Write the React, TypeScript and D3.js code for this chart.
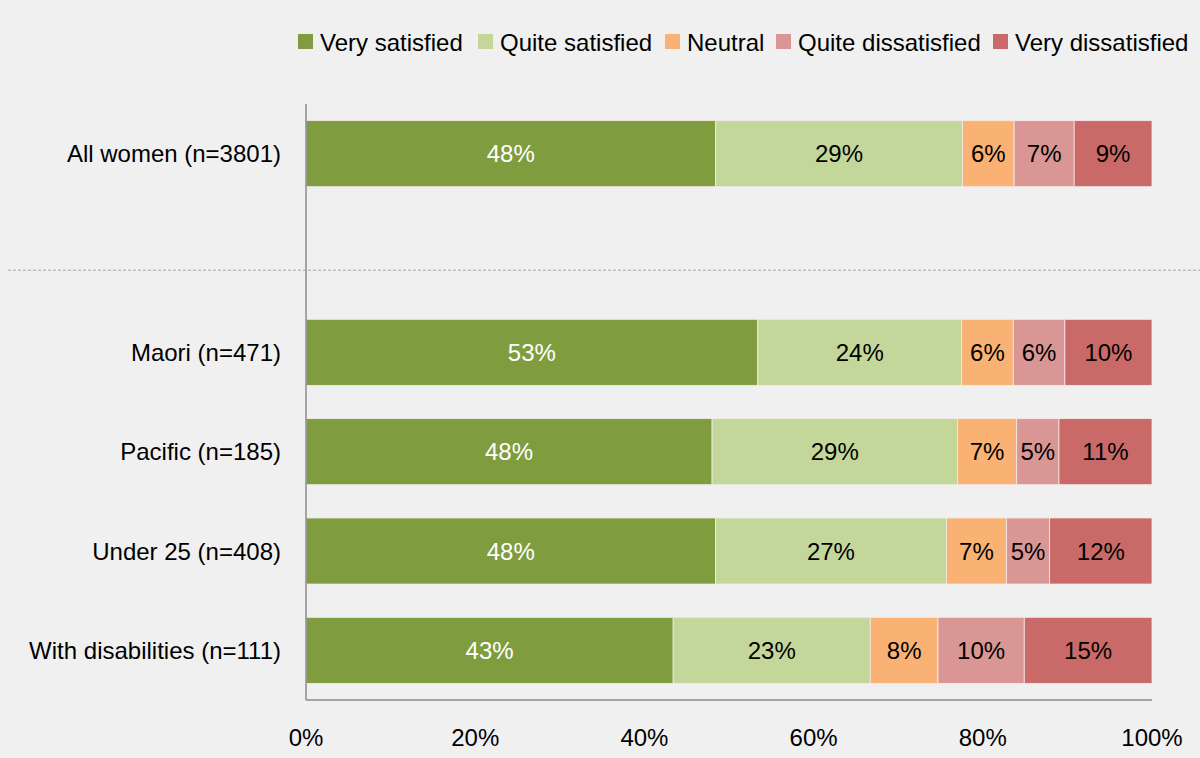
import React from "react";
import * as d3 from "d3";

const categories = ["All women (n=3801)", "", "Maori (n=471)", "Pacific (n=185)", "Under 25 (n=408)", "With disabilities (n=111)"];
const seriesNames = ["Very satisfied", "Quite satisfied", "Neutral", "Quite dissatisfied", "Very dissatisfied"];
const seriesColors = ["#7f9d3f", "#c4d79b", "#f9b273", "#da9694", "#c96a68"];
const veryS = [48.4, null, 53.4, 48.0, 48.4, 43.4];
const quiteS = [29.2, null, 24.1, 29.0, 27.3, 23.3];
const neutral = [6.1, null, 6.1, 7.0, 7.1, 8.0];
const quiteD = [7.1, null, 6.1, 5.0, 5.1, 10.2];
const veryD = [9.2, null, 10.3, 11.0, 12.1, 15.1];
const xTicks = [0, 20, 40, 60, 80, 100];

const W = 1200, H = 758;
const FONT = "'Liberation Sans', Arial, sans-serif";
const FS = 24;

export default function App() {
  const x = d3.scaleLinear().domain([0, 100]).range([306, 1152]);
  const y = d3.scaleBand<string>().domain(categories.map((c, i) => String(i))).range([104, 700]).paddingInner(0.335).paddingOuter(0.1675);
  const series = [veryS, quiteS, neutral, quiteD, veryD];
  const rows = categories.map((c, i) => {
    const obj: any = { key: String(i), label: c };
    series.forEach((s, k) => (obj[seriesNames[k]] = s[i] ?? 0));
    return obj;
  });
  const stack = d3.stack<any>().keys(seriesNames)(rows);
  const bw = y.bandwidth();
  const dashY = (y("1") as number) + bw * 0.76;

  const legendX = [298, 478, 665, 776, 993];

  return (
    <div style={{ position: "absolute", left: 0, top: 0 }}>
      <svg width={W} height={H} style={{ display: "block", fontFamily: FONT }}>
        <rect x={0} y={0} width={W} height={H} fill="#f0f0f0" />
        {seriesNames.map((n, k) => (
          <g key={n}>
            <rect x={legendX[k]} y={34} width={15} height={15} fill={seriesColors[k]} />
            <text x={legendX[k] + 22} y={42} dominantBaseline="central" fontSize={FS} fill="#000">{n}</text>
          </g>
        ))}
        <line x1={8} x2={W} y1={dashY} y2={dashY} stroke="#a6a6a6" strokeDasharray="3,2" strokeWidth={1} />
        {stack.map((layer, k) => (
          <g key={layer.key}>
            {layer.map((d, i) => {
              if (series[k][i] == null) return null;
              const x0 = x(d[0]), x1 = x(d[1]);
              const yy = y(String(i)) as number;
              return (
                <g key={i}>
                  <rect x={x0} y={yy} width={x1 - x0} height={bw} fill={seriesColors[k]} stroke="#f4eaea" strokeWidth={0.8} />
                  <text x={(x0 + x1) / 2} y={yy + bw / 2} textAnchor="middle" dominantBaseline="central" fontSize={FS} fill={k === 0 ? "#ffffff" : "#000000"}>
                    {Math.round(series[k][i] as number)}%
                  </text>
                </g>
              );
            })}
          </g>
        ))}
        {categories.map((c, i) => (
          c ? <text key={i} x={281} y={(y(String(i)) as number) + bw / 2} textAnchor="end" dominantBaseline="central" fontSize={FS} fill="#000">{c}</text> : null
        ))}
        <line x1={306} x2={306} y1={104} y2={700} stroke="#8c8c8c" strokeWidth={1.5} />
        <line x1={306} x2={1152} y1={700} y2={700} stroke="#8c8c8c" strokeWidth={1.5} />
        {xTicks.map((t) => (
          <text key={t} x={x(t)} y={737} textAnchor="middle" dominantBaseline="central" fontSize={FS} fill="#000">{t}%</text>
        ))}
      </svg>
    </div>
  );
}
